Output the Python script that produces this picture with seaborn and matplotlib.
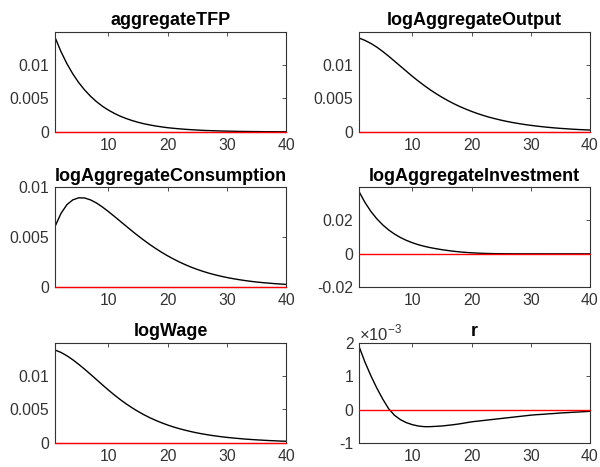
import numpy as np
import pandas as pd
import seaborn as sns
import matplotlib.pyplot as plt
from matplotlib.ticker import FuncFormatter, FixedLocator

# Impulse responses, periods 1..40
periods = list(range(1, 41))

aggregate_tfp = [0.01410, 0.01199, 0.01019, 0.00866, 0.00736, 0.00626, 0.00532, 0.00452,
                 0.00384, 0.00327, 0.00278, 0.00236, 0.00201, 0.00171, 0.00145, 0.00123,
                 0.00105, 0.00089, 0.00076, 0.00064, 0.00055, 0.00047, 0.00040, 0.00034,
                 0.00029, 0.00024, 0.00021, 0.00018, 0.00015, 0.00013, 0.00011, 0.00009,
                 0.00008, 0.00007, 0.00006, 0.00005, 0.00004, 0.00004, 0.00003, 0.00003]

log_output = [0.01400, 0.01365, 0.01320, 0.01265, 0.01200, 0.01130, 0.01055, 0.00980,
              0.00905, 0.00830, 0.00760, 0.00693, 0.00630, 0.00572, 0.00518, 0.00468,
              0.00422, 0.00380, 0.00342, 0.00307, 0.00275, 0.00246, 0.00220, 0.00197,
              0.00176, 0.00157, 0.00140, 0.00125, 0.00111, 0.00099, 0.00088, 0.00078,
              0.00069, 0.00061, 0.00054, 0.00048, 0.00042, 0.00037, 0.00033, 0.00029]

log_consumption = [0.00610, 0.00740, 0.00828, 0.00876, 0.00897, 0.00895, 0.00876, 0.00845,
                   0.00805, 0.00760, 0.00712, 0.00663, 0.00614, 0.00565, 0.00518, 0.00473,
                   0.00430, 0.00390, 0.00352, 0.00317, 0.00285, 0.00255, 0.00228, 0.00203,
                   0.00181, 0.00161, 0.00143, 0.00127, 0.00113, 0.00100, 0.00089, 0.00079,
                   0.00070, 0.00062, 0.00055, 0.00049, 0.00044, 0.00039, 0.00035, 0.00031]

log_investment = [0.03710, 0.03065, 0.02530, 0.02090, 0.01727, 0.01426, 0.01178, 0.00973,
                  0.00804, 0.00664, 0.00548, 0.00453, 0.00374, 0.00309, 0.00250, 0.00200,
                  0.00155, 0.00118, 0.00088, 0.00064, 0.00045, 0.00031, 0.00021, 0.00014,
                  0.00009, 0.00006, 0.00004, 0.00003, 0.00003, 0.00002, 0.00002, 0.00002,
                  0.00001, 0.00001, 0.00001, 0.00001, 0.00001, 0.00001, 0.00001, 0.00001]

log_wage = [0.01385, 0.01350, 0.01300, 0.01240, 0.01172, 0.01100, 0.01023, 0.00945,
            0.00867, 0.00790, 0.00717, 0.00648, 0.00584, 0.00525, 0.00471, 0.00422,
            0.00377, 0.00337, 0.00301, 0.00268, 0.00239, 0.00213, 0.00190, 0.00169,
            0.00150, 0.00134, 0.00119, 0.00106, 0.00094, 0.00084, 0.00075, 0.00067,
            0.00059, 0.00053, 0.00047, 0.00042, 0.00037, 0.00033, 0.00029, 0.00026]

rate_r = [0.00190, 0.00143, 0.00102, 0.00065, 0.00032, 0.00003, -0.00017, -0.00030,
          -0.00039, -0.00045, -0.00049, -0.00051, -0.00051, -0.00050, -0.00049, -0.00047,
          -0.00045, -0.000425, -0.000395, -0.000365, -0.000345, -0.000325, -0.000305, -0.000285,
          -0.000265, -0.000245, -0.000225, -0.000205, -0.000185, -0.000165, -0.00015, -0.00014,
          -0.000125, -0.000115, -0.00010, -0.00009, -0.00008, -0.00007, -0.00006, -0.00005]

steady_state = [0.0] * 40

titles = ['aggregateTFP', 'logAggregateOutput', 'logAggregateConsumption',
          'logAggregateInvestment', 'logWage', 'r']
series = [aggregate_tfp, log_output, log_consumption, log_investment, log_wage, rate_r]
ylims = [(0, 0.0149), (0, 0.0149), (0, 0.01), (-0.02, 0.0395), (0, 0.0149), (-0.001, 0.002)]
yticks = [[0, 0.005, 0.01], [0, 0.005, 0.01], [0, 0.005, 0.01],
          [-0.02, 0, 0.02], [0, 0.005, 0.01], [-0.001, 0, 0.001, 0.002]]

sns.set_theme(style="white")
plt.rcParams['font.family'] = ['Liberation Sans', 'DejaVu Sans']
plt.rcParams['axes.unicode_minus'] = False
plt.rcParams['mathtext.fontset'] = 'custom'
plt.rcParams['mathtext.rm'] = 'Liberation Sans'

axis_col = '#333333'

fig, axes = plt.subplots(3, 2, figsize=(6, 4.67), dpi=100)
fig.subplots_adjust(left=0.0917, right=0.9833, bottom=0.0514, top=0.9315,
                    hspace=0.555, wspace=0.316)

for ax, title, vals, ylim, yt in zip(axes.flat, titles, series, ylims, yticks):
    df = pd.DataFrame({'t': periods, 'value': vals, 'zero': steady_state})
    sns.lineplot(data=df, x='t', y='value', ax=ax, color='black', linewidth=1.0)
    sns.lineplot(data=df, x='t', y='zero', ax=ax, color='red', linewidth=1.0,
                 clip_on=False, zorder=5)

    ax.set_xlim(1, 40)
    ax.set_ylim(*ylim)
    ax.xaxis.set_major_locator(FixedLocator([10, 20, 30, 40]))
    ax.yaxis.set_major_locator(FixedLocator(yt))
    if title == 'r':
        ax.yaxis.set_major_formatter(FuncFormatter(lambda v, p: '%g' % round(v * 1e3, 6)))
        ax.text(0.0, 1.0, r'$\times10^{-3}$', transform=ax.transAxes,
                ha='left', va='bottom', fontsize=12, color=axis_col)
    else:
        ax.yaxis.set_major_formatter(FuncFormatter(lambda v, p: '%g' % round(v, 6)))

    ax.set_xlabel('')
    ax.set_ylabel('')
    ax.set_title(title, fontsize=13, fontweight='bold', color='black', pad=5)
    ax.tick_params(direction='in', length=3, width=0.6, top=True, right=True,
                   labelsize=11.3, colors=axis_col, pad=4)
    for sp in ax.spines.values():
        sp.set_visible(True)
        sp.set_color(axis_col)
        sp.set_linewidth(0.8)

fig.savefig('out.png', dpi=100)
